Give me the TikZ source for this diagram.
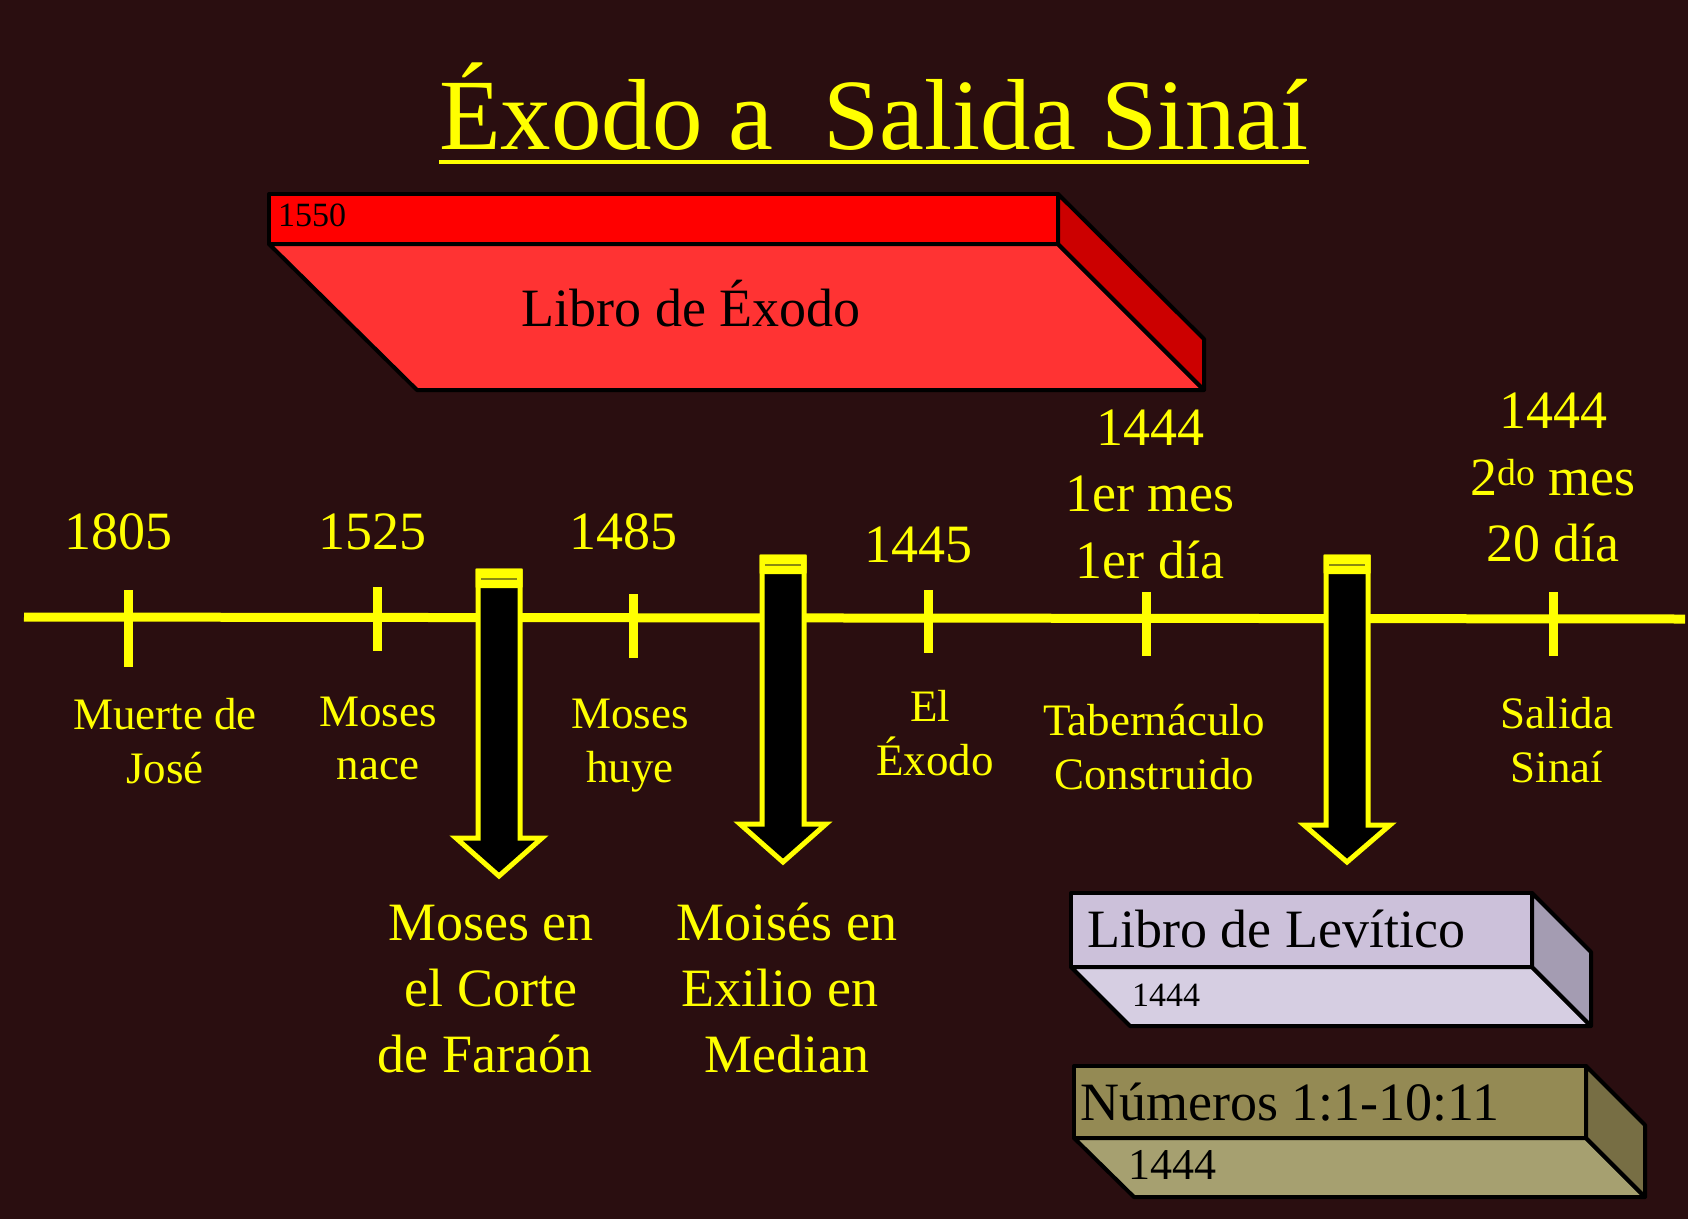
\documentclass[tikz,border=0pt]{standalone}
\usepackage{fontspec}
\setmainfont{Liberation Serif}
\definecolor{bg}{HTML}{2A0E10}
\definecolor{yel}{HTML}{FFFF00}
\definecolor{capline}{HTML}{8A8A10}
\definecolor{redtop}{HTML}{FF0000}
\definecolor{redbot}{HTML}{FF3333}
\definecolor{redside}{HTML}{CC0000}
\definecolor{lavtop}{HTML}{CCC1DA}
\definecolor{lavbot}{HTML}{D6CEE2}
\definecolor{lavside}{HTML}{A49CB2}
\definecolor{olvtop}{HTML}{948A54}
\definecolor{olvbot}{HTML}{A6A070}
\definecolor{olvside}{HTML}{776E44}
\newcommand\blockarrowat[4]{%
  \filldraw[fill=black, draw=yel, line width=5pt, line join=miter]
    ({#1-21},#2) -- ({#1-21},#3) -- ({#1-43},#3) -- (#1,#4) -- ({#1+43},#3)
    -- ({#1+21},#3) -- ({#1+21},#2) -- cycle;
  \fill[yel, rounded corners=1pt] ({#1-23.5},{#2-2.5}) rectangle ({#1+23.5},{#2+17});
  \draw[capline, line width=1.5pt] ({#1-18},{#2+8}) -- ({#1+18},{#2+8});
}
\begin{document}
\begin{tikzpicture}[x=1pt,y=-1pt,
  txt/.style={text=yel, inner sep=0pt, anchor=base},
  yr/.style={txt, font=\fontsize{54}{60}\selectfont},
  lab/.style={txt, font=\fontsize{45}{50}\selectfont},
  big/.style={txt, font=\fontsize{54}{60}\selectfont},
  blk/.style={text=black, inner sep=0pt, anchor=base},
  face/.style={draw=black, line width=4pt, line join=round},
  tl/.style={yel, line width=9pt}]
\useasboundingbox (0,0) rectangle (1688,1219);
\fill[bg] (0,0) rectangle (1688,1219);

% title
\node[txt, font=\fontsize{101}{115}\selectfont] (title) at (874,149) {Éxodo a\ \ Salida Sinaí};
\draw[yel, line width=4pt] ([yshift=-13pt]title.base west) -- ([yshift=-13pt]title.base east);

% red box
\filldraw[face, fill=redbot] (269,244) -- (1058,244) -- (1204,390) -- (417,390) -- cycle;
\filldraw[face, fill=redside] (1058,194) -- (1204,339) -- (1204,390) -- (1058,244) -- cycle;
\filldraw[face, fill=redtop] (269,194) rectangle (1058,244);
\node[blk, anchor=base west, font=\fontsize{34}{40}\selectfont] (y1550) at (278,226) {1550};
\node[blk, font=\fontsize{54}{60}\selectfont] (exodo) at (691,326) {Libro de Éxodo};

% timeline
\draw[tl] (24,617) -- (1685,619);
\draw[tl] (128,590) -- (128,667);
\draw[tl] (377,587) -- (377,651);
\draw[tl] (633,594) -- (633,658);
\draw[tl] (928,590) -- (928,653);
\draw[tl] (1146,592) -- (1146,656);
\draw[tl] (1553,592) -- (1553,656);

% arrows
\blockarrowat{499}{571}{838}{876}
\blockarrowat{783}{557}{824}{862}
\blockarrowat{1347}{557}{825}{862}

% years
\node[yr] (y1805) at (118,549) {1805};
\node[yr] (y1525) at (372,549) {1525};
\node[yr] (y1485) at (623,549) {1485};
\node[yr] (y1445) at (918,562) {1445};
\node[yr] (y1444a) at (1150,445) {1444};
\node[yr] (mes1) at (1150,511) {1er mes};
\node[yr] (dia1) at (1150,578) {1er día};
\node[yr] (y1444b) at (1553,428) {1444};
\node[yr] (mes2) at (1553,495) {2\textsuperscript{do} mes};
\node[yr] (dia20) at (1553,561) {20 día};

% labels below
\node[lab] (l1a) at (165,729) {Muerte de};
\node[lab] (l1b) at (165,783) {José};
\node[lab] (l2a) at (378,726) {Moses};
\node[lab] (l2b) at (378,779) {nace};
\node[lab] (l3a) at (630,728) {Moses};
\node[lab] (l3b) at (630,782) {huye};
\node[lab] (l4a) at (930,721) {El};
\node[lab] (l4b) at (935,775) {Éxodo};
\node[lab] (l5a) at (1154,735) {Tabernáculo};
\node[lab] (l5b) at (1154,789) {Construido};
\node[lab] (l6a) at (1557,728) {Salida};
\node[lab] (l6b) at (1557,782) {Sinaí};

% arrow labels
\node[big] (a1a) at (491,940) {Moses en};
\node[big] (a1b) at (491,1006) {el Corte};
\node[big] (a1c) at (485,1072) {de Faraón};
\node[big] (a2a) at (787,940) {Moisés en};
\node[big] (a2b) at (780,1006) {Exilio en};
\node[big] (a2c) at (787,1072) {Median};

% lavender box
\filldraw[face, fill=lavbot] (1071,967) -- (1532,967) -- (1591,1026) -- (1130,1026) -- cycle;
\filldraw[face, fill=lavside] (1532,893) -- (1591,952) -- (1591,1026) -- (1532,967) -- cycle;
\filldraw[face, fill=lavtop] (1071,893) rectangle (1532,967);
\node[blk, anchor=base west, font=\fontsize{54}{60}\selectfont] (lev) at (1087,947) {Libro de Levítico};
\node[blk, anchor=base west, font=\fontsize{34}{40}\selectfont] (levy) at (1132,1006) {1444};

% olive box
\filldraw[face, fill=olvbot] (1074,1138) -- (1586,1138) -- (1645,1197) -- (1134,1197) -- cycle;
\filldraw[face, fill=olvside] (1586,1066) -- (1645,1125) -- (1645,1197) -- (1586,1138) -- cycle;
\filldraw[face, fill=olvtop] (1074,1066) rectangle (1586,1138);
\node[blk, anchor=base west, font=\fontsize{54}{60}\selectfont] (num) at (1080,1120) {Números 1:1-10:11};
\node[blk, anchor=base west, font=\fontsize{44}{50}\selectfont] (numy) at (1128,1179) {1444};
\end{tikzpicture}
\end{document}
